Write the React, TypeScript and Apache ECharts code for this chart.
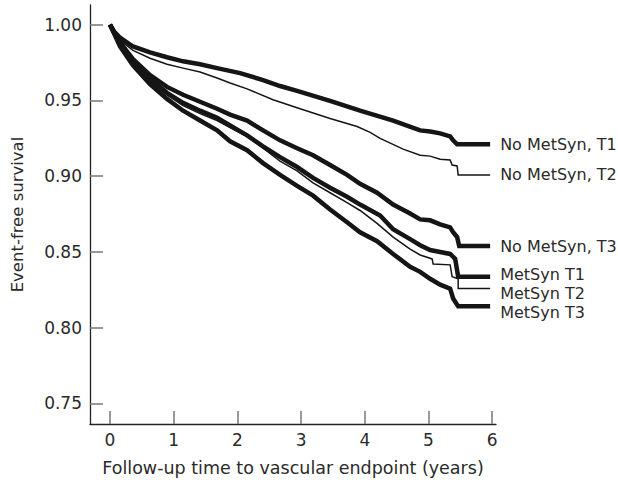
import React, { useEffect, useRef } from "react";
import * as echarts from "echarts";

const seriesNames = [
  "No MetSyn, T1",
  "No MetSyn, T2",
  "No MetSyn, T3",
  "MetSyn T1",
  "MetSyn T2",
  "MetSyn T3",
];

const noMetT1Years = [0, 0.063, 0.157, 0.361, 0.628, 0.895, 1.147, 1.414, 1.681, 2.042, 2.403, 2.67, 2.937, 3.455, 3.926, 4.445, 4.869, 5.026, 5.183, 5.34, 5.387, 5.45, 5.968];
const noMetT1Vals = [1.0, 0.9954, 0.9915, 0.9856, 0.9817, 0.9785, 0.9758, 0.9739, 0.9713, 0.968, 0.9634, 0.9595, 0.9563, 0.9497, 0.9432, 0.9367, 0.9302, 0.9295, 0.9282, 0.9262, 0.9236, 0.921, 0.921];

const noMetT2Years = [0, 0.063, 0.157, 0.361, 0.628, 0.895, 1.147, 1.414, 1.681, 1.885, 2.152, 2.56, 2.937, 3.455, 3.879, 4.084, 4.241, 4.602, 4.869, 5.026, 5.183, 5.34, 5.371, 5.45, 5.466, 5.968];
const noMetT2Vals = [1.0, 0.9948, 0.9896, 0.983, 0.9778, 0.9739, 0.9713, 0.9687, 0.9648, 0.9615, 0.9576, 0.9504, 0.9452, 0.938, 0.9328, 0.9289, 0.9249, 0.9178, 0.9138, 0.9132, 0.9112, 0.9106, 0.9073, 0.9067, 0.9008, 0.9008];

const noMetT3Years = [0, 0.079, 0.157, 0.361, 0.628, 0.895, 1.147, 1.414, 1.681, 1.885, 2.152, 2.403, 2.67, 2.937, 3.188, 3.455, 3.722, 3.926, 4.193, 4.445, 4.712, 4.869, 5.026, 5.183, 5.34, 5.387, 5.45, 5.482, 5.968];
const noMetT3Vals = [1.0, 0.9941, 0.9883, 0.9772, 0.9667, 0.9589, 0.9537, 0.9491, 0.9445, 0.9406, 0.9367, 0.9302, 0.9236, 0.9184, 0.9138, 0.9073, 0.9008, 0.8949, 0.889, 0.8812, 0.8753, 0.8714, 0.8708, 0.8681, 0.8662, 0.8629, 0.8597, 0.8538, 0.8538];

const metT1Years = [0, 0.079, 0.157, 0.361, 0.628, 0.895, 1.147, 1.414, 1.681, 1.885, 2.152, 2.403, 2.67, 2.937, 3.188, 3.455, 3.722, 3.926, 4.241, 4.445, 4.712, 4.869, 5.026, 5.183, 5.34, 5.419, 5.466, 5.968];
const metT1Vals = [1.0, 0.9935, 0.9869, 0.9752, 0.9641, 0.955, 0.9484, 0.9432, 0.9386, 0.9334, 0.9269, 0.9197, 0.9125, 0.906, 0.8988, 0.8923, 0.8864, 0.8812, 0.874, 0.8649, 0.8584, 0.8544, 0.8512, 0.8499, 0.8486, 0.8453, 0.8336, 0.8336];

const metT2Years = [0, 0.079, 0.157, 0.361, 0.628, 0.895, 1.147, 1.414, 1.681, 1.885, 2.152, 2.403, 2.67, 2.937, 3.188, 3.455, 3.722, 3.926, 4.193, 4.445, 4.712, 4.869, 5.057, 5.073, 5.34, 5.371, 5.466, 5.466, 5.968];
const metT2Vals = [1.0, 0.9935, 0.9863, 0.9746, 0.9628, 0.9537, 0.9465, 0.9413, 0.9367, 0.9321, 0.9262, 0.9184, 0.9099, 0.9034, 0.8956, 0.889, 0.8825, 0.8773, 0.8688, 0.8597, 0.8518, 0.8479, 0.8453, 0.842, 0.8414, 0.8336, 0.8322, 0.8257, 0.8257];

const metT3Years = [0, 0.079, 0.157, 0.361, 0.628, 0.895, 1.147, 1.414, 1.681, 1.885, 2.152, 2.403, 2.67, 2.937, 3.188, 3.455, 3.722, 3.926, 4.193, 4.445, 4.712, 4.869, 5.026, 5.183, 5.34, 5.387, 5.466, 5.968];
const metT3Vals = [1.0, 0.9928, 0.9856, 0.9732, 0.9608, 0.951, 0.9432, 0.9367, 0.9302, 0.923, 0.9171, 0.9086, 0.9008, 0.8936, 0.8871, 0.8779, 0.8695, 0.8629, 0.857, 0.8486, 0.8401, 0.8368, 0.8322, 0.8283, 0.8257, 0.8192, 0.814, 0.814];

const xTicks = [0, 1, 2, 3, 4, 5, 6];
const yTicks = [0.75, 0.8, 0.85, 0.9, 0.95, 1.0];

const curves = [
  { years: noMetT1Years, vals: noMetT1Vals, thick: true, offset: [0, 0] },
  { years: noMetT2Years, vals: noMetT2Vals, thick: false, offset: [0, 0] },
  { years: noMetT3Years, vals: noMetT3Vals, thick: true, offset: [0, 0] },
  { years: metT1Years, vals: metT1Vals, thick: true, offset: [0, -2] },
  { years: metT2Years, vals: metT2Vals, thick: false, offset: [0, 5] },
  { years: metT3Years, vals: metT3Vals, thick: true, offset: [0, 6] },
];

const FONT = "DejaVu Sans";
const TEXT = "#2a2a2a";
const FS = 16;

export default function App() {
  const ref = useRef<HTMLDivElement>(null);
  useEffect(() => {
    if (!ref.current) return;
    const chart = echarts.init(ref.current, undefined, { renderer: "svg" });
    const series = curves.map((c, i) => ({
      name: seriesNames[i],
      type: "line",
      symbol: "none",
      data: c.years.map((y, j) => [y, c.vals[j]]),
      lineStyle: { color: "#151515", width: c.thick ? 4.5 : 1.5, join: "miter" },
      itemStyle: { color: "#151515" },
      endLabel: {
        show: true,
        formatter: "{a}",
        distance: 10,
        offset: c.offset,
        color: TEXT,
        fontSize: FS,
        lineHeight: 14,
        fontFamily: FONT,
      },
      z: c.thick ? 3 : 2,
    }));
    chart.setOption({
      animation: false,
      backgroundColor: "#ffffff",
      grid: { left: 90, top: 5, width: 406, height: 424, containLabel: false },
      xAxis: {
        type: "value",
        min: -0.314,
        max: 6.06,
        name: "Follow-up time to vascular endpoint (years)",
        nameLocation: "middle",
        nameGap: 35,
        nameTextStyle: { fontSize: 17.5, color: TEXT, fontFamily: FONT },
        axisLine: { show: true, onZero: false, lineStyle: { color: "#222", width: 1.3 } },
        axisTick: {
          show: true,
          inside: true,
          length: 13,
          customValues: xTicks,
          lineStyle: { color: "#777", width: 1.5 },
        },
        axisLabel: {
          customValues: xTicks,
          fontSize: 17,
          color: TEXT,
          fontFamily: FONT,
          margin: 7,
        },
        splitLine: { show: false },
      },
      yAxis: {
        type: "value",
        min: 0.7363,
        max: 1.013,
        name: "Event-free survival",
        nameLocation: "middle",
        nameGap: 64,
        nameTextStyle: { fontSize: 16.5, color: TEXT, fontFamily: FONT },
        axisLine: { show: true, onZero: false, lineStyle: { color: "#222", width: 1.3 } },
        axisTick: {
          show: true,
          inside: true,
          length: 13,
          customValues: yTicks,
          lineStyle: { color: "#777", width: 1.5 },
        },
        axisLabel: {
          customValues: yTicks,
          formatter: (v: number) => v.toFixed(2),
          fontSize: 17,
          color: TEXT,
          fontFamily: FONT,
          margin: 8,
        },
        splitLine: { show: false },
      },
      series,
    });
    return () => chart.dispose();
  }, []);
  return (
    <div
      ref={ref}
      style={{ position: "fixed", left: 0, top: 0, width: 618, height: 482 }}
    />
  );
}
